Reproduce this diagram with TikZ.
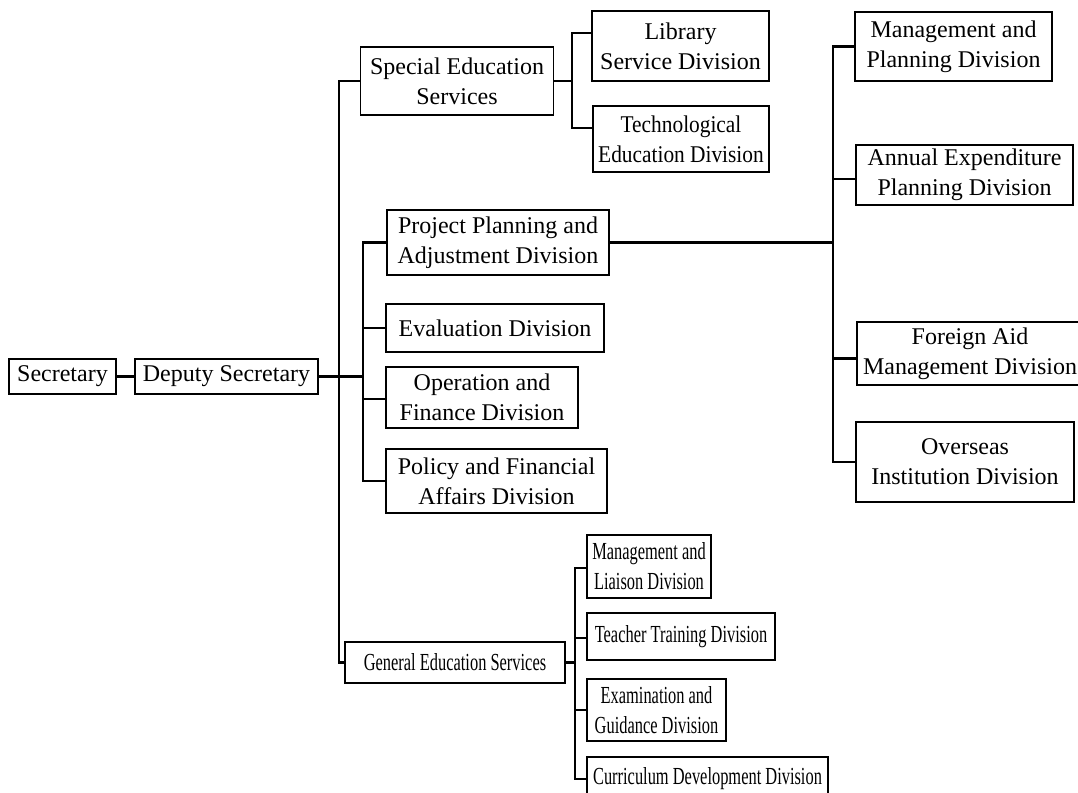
\documentclass[tikz,border=0pt]{standalone}
\usepackage{fontspec}
\setmainfont{Liberation Serif}
\newfontfamily\condfont[FakeStretch=0.67]{Liberation Serif}
\newfontfamily\semicondfont[FakeStretch=0.89]{Liberation Serif}
\usetikzlibrary{calc}
\begin{document}
\begin{tikzpicture}[x=1pt,y=-1pt,
  box/.style={draw, line width=1.5pt, inner sep=0pt, align=center,
    font=\fontsize{24}{30}\selectfont},
  cbox/.style={box, font=\condfont\fontsize{24.5}{30}\selectfont},
  sbox/.style={box, font=\semicondfont\fontsize{24}{30}\selectfont},
  thick box/.style={box, line width=2.8pt},
  conn/.style={line width=2.2pt}]
\useasboundingbox (0,0) rectangle (1078,792);
% nodes
\node[box, minimum width=107, minimum height=35] (sec) at (62.5,376.5) {Secretary};
\node[box, minimum width=183, minimum height=35] (dep) at (226.5,376.5) {Deputy Secretary};
\node[box, minimum width=193, minimum height=68] (ses) at (457,81) {Special Education\\Services};
\node[box, minimum width=177, minimum height=70] (lib) at (680.5,46) {Library\\Service Division};
\node[sbox, minimum width=176, minimum height=66] (tech) at (681,139) {Technological\\Education Division};
\node[thick box, minimum width=222, minimum height=65] (ppa) at (498,242.5) {Project Planning and\\Adjustment Division};
\node[box, minimum width=218, minimum height=48] (eval) at (495,328) {Evaluation Division};
\node[box, minimum width=192, minimum height=61] (opf) at (482,397.5) {Operation and\\Finance Division};
\node[box, minimum width=221, minimum height=64] (pfa) at (496.5,481) {Policy and Financial\\Affairs Division};
\node[box, minimum width=197, minimum height=69] (mpd) at (953.5,46.5) {Management and\\Planning Division};
\node[box, minimum width=217, minimum height=60] (aep) at (964.5,175) {Annual Expenditure\\Planning Division};
\node[thick box, minimum width=226, minimum height=63] (fam) at (970,353.5) {Foreign Aid\\Management Division};
\node[box, minimum width=218, minimum height=80] (oid) at (965,462) {Overseas\\Institution Division};
\node[cbox, minimum width=220, minimum height=41] (ges) at (455,662.5) {General Education Services};
\node[cbox, minimum width=124, minimum height=63] (mld) at (649,566.5) {Management and\\Liaison Division};
\node[cbox, minimum width=188, minimum height=47] (ttd) at (681,636.5) {Teacher Training Division};
\node[cbox, minimum width=139, minimum height=62] (egd) at (656.5,710) {Examination and\\Guidance Division};
\node[cbox, minimum width=241, minimum height=44] (cdd) at (707.5,779) {Curriculum Development Division};
% junctions
\coordinate (j1) at (339,376.5);
\coordinate (j2) at (363,376.5);
\coordinate (s1) at (572,81);
\coordinate (p1) at (833,242.5);
\coordinate (g1) at (575,662.5);
% connectors
\draw[conn] (sec.east) -- (dep.west);
\draw[conn] (dep.east) -- (j2);
\draw[conn] (ses.west) -| (j1) |- (ges.west);
\draw[conn] (ppa.west) -| (j2) |- (pfa.west);
\draw[conn] (j2) |- (eval.west);
\draw[conn] (j2) |- ($(opf.west)+(0,1.5)$);
\draw[conn] (ses.east) -- (s1);
\draw[conn] ($(lib.west)+(0,-13)$) -| (s1) |- ($(tech.west)+(0,-11)$);
\draw[conn] (ppa.east) -- (p1);
\draw[conn] (mpd.west) -| (p1) |- (oid.west);
\draw[conn] (p1) |- ($(aep.west)+(0,4)$);
\draw[conn] (p1) |- ($(fam.west)+(0,5)$);
\draw[conn] (ges.east) -- (g1);
\draw[conn] ($(mld.west)+(0,1.5)$) -| (g1) |- (cdd.west);
\draw[conn] (g1) |- ($(ttd.west)+(0,1.5)$);
\draw[conn] (g1) |- (egd.west);
\end{tikzpicture}
\end{document}
